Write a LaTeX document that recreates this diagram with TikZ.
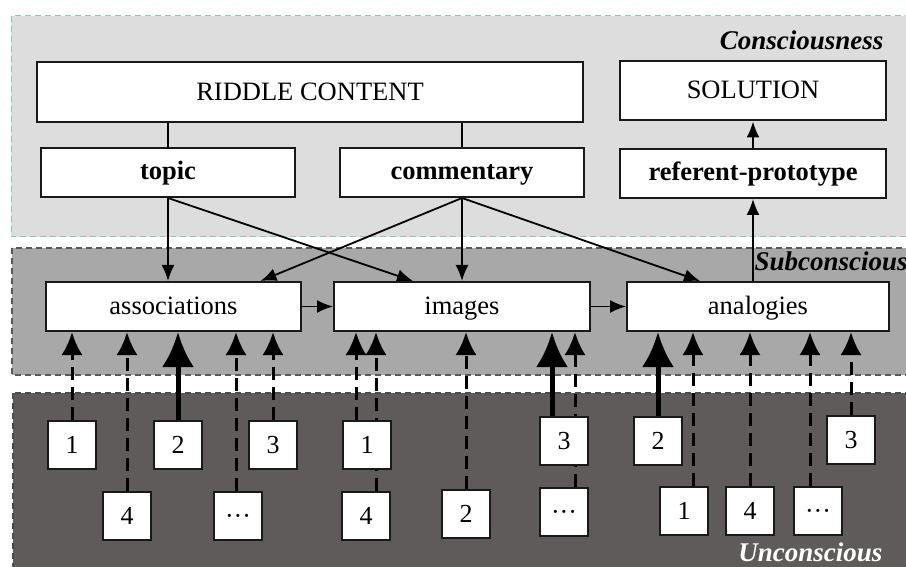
\documentclass[tikz,border=0pt]{standalone}
\usepackage{fontspec}
\setmainfont{Liberation Serif}
\usetikzlibrary{arrows.meta,backgrounds}

\definecolor{consc}{RGB}{221,221,221}
\definecolor{subc}{RGB}{168,168,168}
\definecolor{uncon}{RGB}{96,91,91}
\definecolor{consline}{RGB}{128,208,176}

\begin{document}
\begin{tikzpicture}[x=1pt,y=-1pt,font=\fontsize{26.5}{30}\selectfont,
 b/.style={draw=black!90,fill=white,line width=2pt,minimum height=49pt,text height=20pt,text depth=5pt},
 n/.style={draw=black!90,fill=white,line width=2pt,minimum size=48pt,text height=18pt,text depth=2pt,font=\fontsize{26}{28}\selectfont},
 lvl/.style={font=\fontsize{27}{30}\selectfont\bfseries\itshape},
 a/.style={-{Latex[length=16pt,width=13pt]},line width=1.8pt},
 l/.style={line width=1.2pt},
 d/.style={-{Latex[length=23pt,width=21pt]},line width=3pt,dash pattern=on 13pt off 7pt},
 s/.style={-{Latex[length=35pt,width=32pt]},line width=5pt}]
\useasboundingbox (0,0) rectangle (906,567);

% conscious level
\node[b,minimum width=546pt,minimum height=60pt,text depth=2pt] (riddle) at (310,92) {RIDDLE CONTENT};
\node[b,minimum width=266pt,minimum height=59pt] (solution) at (753,91) {SOLUTION};
\node[b,minimum width=254pt] (topic) at (168,172.5) {\textbf{topic}};
\node[b,minimum width=244pt] (commentary) at (462,172.5) {\textbf{commentary}};
\node[b,minimum width=266pt] (referent) at (753,173.5) {\textbf{referent-prototype}};

% subconscious level
\node[b,minimum width=255pt] (assoc) at (173.5,306.5) {associations};
\node[b,minimum width=256pt] (images) at (462,306.5) {images};
\node[b,minimum width=262pt] (analogies) at (758,306.5) {analogies};

% unconscious elements
\node[n] (a1) at (72,445) {1};
\node[n] (a4) at (127,516) {4};
\node[n] (a2) at (178,445) {2};
\node[n] (ad) at (238,516) {···};
\node[n] (a3) at (273,445) {3};
\node[n] (i1) at (367,445) {1};
\node[n] (i4) at (366,516) {4};
\node[n] (i2) at (466,514) {2};
\node[n] (i3) at (564,441) {3};
\node[n] (id) at (564,512) {···};
\node[n] (n2) at (658,441) {2};
\node[n] (n1) at (684,511) {1};
\node[n] (n4) at (750,511) {4};
\node[n] (nd) at (818,511) {···};
\node[n] (n3) at (851,440) {3};

\node[lvl,anchor=base east] (lconsc) at (887,50) {Consciousness};
\node[lvl,anchor=base west] (lsubc) at (751,270) {Subconscious};
\node[lvl,anchor=base east,text=white] (luncon) at (886,561) {Unconscious};

\begin{scope}[on background layer]
% levels
\draw[draw=consline,fill=consc,line width=1pt,dash pattern=on 6pt off 4pt] (11,16) rectangle (915,237);
\draw[draw=black!65,fill=subc,line width=1.2pt,dash pattern=on 6pt off 4pt] (12,248) rectangle (915,375);
\draw[draw=black!70,fill=uncon,line width=1.2pt,dash pattern=on 6pt off 4pt] (13,393) rectangle (915,575);

\draw[l] (topic.north) -- (topic.north |- riddle.south);
\draw[l] (commentary.north) -- (commentary.north |- riddle.south);
\draw[a] (topic.south) -- (topic.south |- assoc.north);
\draw[a] (topic.south) -- ([xshift=-49pt]images.north);
\draw[a] (commentary.south) -- ([xshift=87pt]assoc.north);
\draw[a] (commentary.south) -- (images.north);
\draw[a] (commentary.south) -- ([xshift=-58pt]analogies.north);
\draw[a] (assoc) -- (images);
\draw[a] (images) -- (analogies);
\draw[a] (analogies.north -| referent.south) -- (referent.south);
\draw[a] (referent) -- (solution);

% links up from the unconscious
\draw[d] (a1.north) -- (a1.north |- assoc.south);
\draw[d] (a4.north) -- (a4.north |- assoc.south);
\draw[s] (a2.north) -- (a2.north |- assoc.south);
\draw[d] ([xshift=-2pt]ad.north) -- ([xshift=-2pt]ad.north |- assoc.south);
\draw[d] (a3.north) -- (a3.north |- assoc.south);
\draw[d] ([xshift=-11pt]i1.north) -- ([xshift=-11pt]i1.north |- images.south);
\draw[d] ([xshift=10pt]i4.north) -- ([xshift=10pt]i4.north |- images.south);
\draw[d] (i2.north) -- (i2.north |- images.south);
\draw[s] ([xshift=-12pt]i3.north) -- ([xshift=-12pt]i3.north |- images.south);
\draw[d] ([xshift=11pt]id.north) -- ([xshift=11pt]id.north |- images.south);
\draw[s] (n2.north) -- (n2.north |- analogies.south);
\draw[d] ([xshift=9pt]n1.north) -- ([xshift=9pt]n1.north |- analogies.south);
\draw[d] (n4.north) -- (n4.north |- analogies.south);
\draw[d] ([xshift=-8pt]nd.north) -- ([xshift=-8pt]nd.north |- analogies.south);
\draw[d] (n3.north) -- (n3.north |- analogies.south);
\end{scope}
\end{tikzpicture}
\end{document}
